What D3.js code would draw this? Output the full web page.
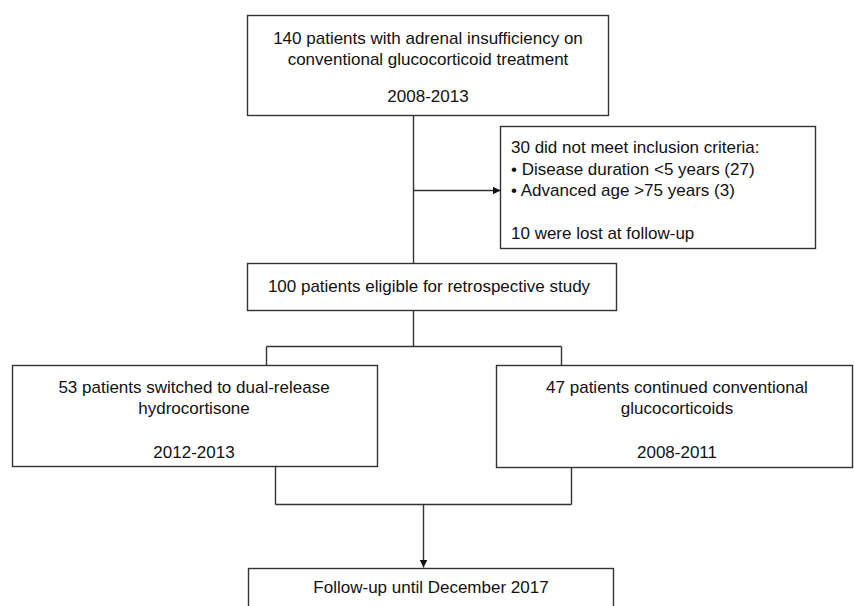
<!DOCTYPE html>
<html>
<head>
<meta charset="utf-8">
<script src="https://cdn.jsdelivr.net/npm/d3@7"></script>
<style>
  html, body { margin: 0; padding: 0; background: #fff; }
  svg text { font-family: "Liberation Sans", Arial, sans-serif; font-size: 17px; fill: #111; }
</style>
</head>
<body>
<div id="chart"></div>
<script>
// flowchart content
var topLines = ["140 patients with adrenal insufficiency on", "conventional glucocorticoid treatment", "", "2008-2013"];
var excludedLines = ["30 did not meet inclusion criteria:", "\u2022 Disease duration <5 years (27)", "\u2022 Advanced age >75 years (3)", "", "10 were lost at follow-up"];
var eligibleLines = ["100 patients eligible for retrospective study"];
var switchedLines = ["53 patients switched to dual-release", "hydrocortisone", "", "2012-2013"];
var continuedLines = ["47 patients continued conventional", "glucocorticoids", "", "2008-2011"];
var followLines = ["Follow-up until December 2017"];

var width = 854, height = 606;

var svg = d3.select('#chart').append('svg')
  .attr('width', width).attr('height', height);

svg.append('defs').append('marker')
  .attr('id', 'arrow')
  .attr('viewBox', '0 0 10 10')
  .attr('refX', 10).attr('refY', 5)
  .attr('markerWidth', 8).attr('markerHeight', 8)
  .attr('markerUnits', 'userSpaceOnUse')
  .attr('orient', 'auto')
  .append('path').attr('d', 'M0,0 L10,5 L0,10 Z').attr('fill', '#111');

// box layout: x, y, w, h, text anchor, text x, baselines
var boxes = [
  { lines: topLines, x: 247, y: 15, w: 361, h: 100, anchor: 'middle', tx: 428, ty: [44, 65, 0, 102] },
  { lines: excludedLines, x: 500, y: 126, w: 315, h: 122, anchor: 'start', tx: 511, ty: [153, 175, 196, 0, 239] },
  { lines: eligibleLines, x: 247, y: 263, w: 369, h: 47, anchor: 'middle', tx: 429, ty: [292] },
  { lines: switchedLines, x: 12, y: 365, w: 365, h: 101, anchor: 'middle', tx: 194, ty: [393, 414, 0, 458] },
  { lines: continuedLines, x: 496, y: 365, w: 356, h: 102, anchor: 'middle', tx: 677, ty: [393, 414, 0, 458] },
  { lines: followLines, x: 248, y: 568, w: 365, h: 60, anchor: 'middle', tx: 431, ty: [593] }
];

var g = svg.selectAll('g.box')
  .data(boxes)
  .enter()
  .append('g').attr('class', 'box');

g.append('rect')
  .attr('x', function(d) { return d.x + 0.5; })
  .attr('y', function(d) { return d.y + 0.5; })
  .attr('width', function(d) { return d.w; })
  .attr('height', function(d) { return d.h; })
  .attr('fill', '#fff')
  .attr('stroke', '#333')
  .attr('stroke-width', 1.4);

g.each(function(d) {
  var sel = d3.select(this);
  d.lines.forEach(function(t, i) {
    if (!t) return;
    sel.append('text')
      .attr('x', d.tx)
      .attr('y', d.ty[i])
      .attr('text-anchor', d.anchor)
      .text(t);
  });
});

// connector segments
var links = [
  { x1: 413, y1: 115, x2: 413, y2: 263 },
  { x1: 413, y1: 190, x2: 500, y2: 190, arrow: true },
  { x1: 413, y1: 310, x2: 413, y2: 346 },
  { x1: 266, y1: 346, x2: 561, y2: 346 },
  { x1: 266, y1: 346, x2: 266, y2: 365 },
  { x1: 561, y1: 346, x2: 561, y2: 365 },
  { x1: 275, y1: 466, x2: 275, y2: 504 },
  { x1: 571, y1: 467, x2: 571, y2: 504 },
  { x1: 275, y1: 504, x2: 571, y2: 504 },
  { x1: 423, y1: 504, x2: 423, y2: 567, arrow: true }
];

svg.selectAll('line.link')
  .data(links)
  .enter()
  .append('line')
  .attr('class', 'link')
  .attr('x1', function(d) { return d.x1 + 0.5; })
  .attr('y1', function(d) { return d.y1 + 0.5; })
  .attr('x2', function(d) { return d.x2 + 0.5; })
  .attr('y2', function(d) { return d.y2 + 0.5; })
  .attr('stroke', '#333')
  .attr('stroke-width', 1.4)
  .attr('marker-end', function(d) { return d.arrow ? 'url(#arrow)' : null; });
</script>
</body>
</html>
